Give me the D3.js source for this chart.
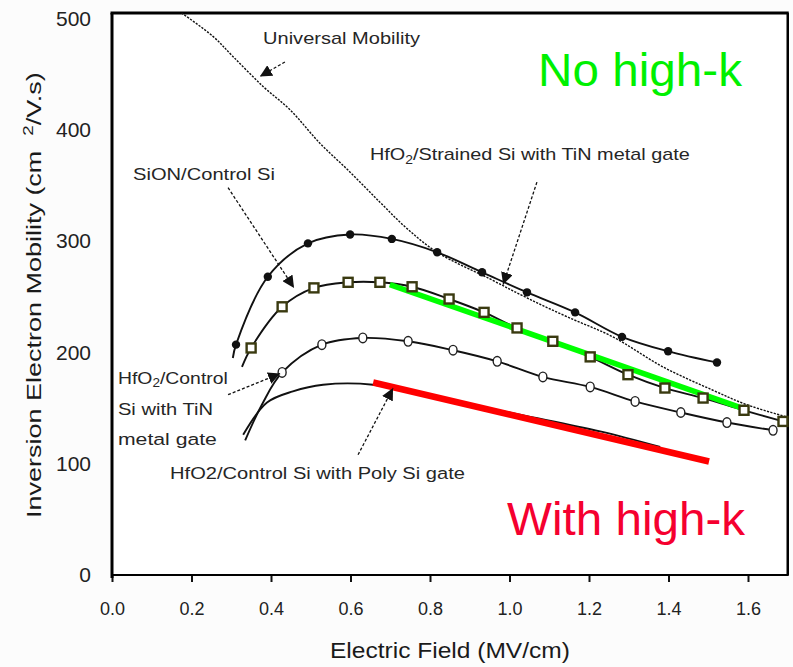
<!DOCTYPE html>
<html>
<head>
<meta charset="utf-8">
<title>Inversion Electron Mobility vs Electric Field</title>
<style>
body { margin: 0; background: #fcfcfc; }
svg text { font-family: "Liberation Sans", Arial, sans-serif; }
</style>
<script src="https://cdn.jsdelivr.net/npm/d3@7"></script>
</head>
<body>
<svg id="chart" width="793" height="667"></svg>
<script>
// ---- data (MV/cm, cm2/V.s) ----
var xTicks = [0, 0.2, 0.4, 0.6, 0.8, 1.0, 1.2, 1.4, 1.6];
var yTicks = [0, 100, 200, 300, 400, 500];

// HfO2 / strained Si with TiN metal gate (filled circles), first point is the line tail
var strainedX = [0.304, 0.312, 0.392, 0.493, 0.599, 0.704, 0.818, 0.931, 1.044, 1.165, 1.283, 1.399, 1.522];
var strainedY = [195, 207, 268, 298, 306, 302, 290, 272, 254, 236, 214, 201, 191];

// SiON / control Si (open squares)
var sionX = [0.327, 0.350, 0.428, 0.508, 0.594, 0.674, 0.755, 0.848, 0.936, 1.019, 1.109, 1.203, 1.298, 1.391, 1.487, 1.590, 1.688];
var sionY = [187, 204, 241, 258, 263, 263, 259, 248, 236, 222, 210, 196, 180, 168, 159, 148, 138];

// HfO2 / control Si with TiN metal gate (open circles), first two points are the line tail
var tinX = [0.335, 0.377, 0.428, 0.528, 0.631, 0.745, 0.858, 0.969, 1.084, 1.203, 1.316, 1.431, 1.547, 1.663];
var tinY = [121, 153, 182, 207, 213, 210, 202, 192, 178, 169, 156, 146, 137, 130];

// HfO2 / control Si with poly Si gate (no markers)
var polyX = [0.330, 0.390, 0.455, 0.531, 0.657, 0.850, 1.026, 1.228, 1.379];
var polyY = [126, 155, 165, 171, 171, 157, 144, 129, 115];

// universal mobility curve
var univX = [0.175, 0.254, 0.304, 0.380, 0.448, 0.523, 0.599, 0.674, 0.740, 0.818, 0.951, 1.044, 1.145, 1.260, 1.386, 1.512, 1.597, 1.698];
var univY = [505, 484, 466, 439, 418, 388, 362, 335, 312, 290, 266, 249, 232, 214, 187, 166, 153, 142];

// trend lines drawn over the plot
var noHighKX = [0.699, 1.585];
var noHighKY = [261, 150];
var highKX = [0.657, 1.502];
var highKY = [173, 102];

// ---- layout ----
var svg = d3.select("#chart");
var x = d3.scaleLinear().domain([0, 1.7]).range([112, 787.75]);
var y = d3.scaleLinear().domain([0, 505]).range([575, 13]);

function pts(xs, ys) { return xs.map(function (v, i) { return [v, ys[i]]; }); }
var line = d3.line()
  .x(function (d) { return x(d[0]); })
  .y(function (d) { return y(d[1]); })
  .curve(d3.curveCatmullRom.alpha(0.5));
var straight = d3.line()
  .x(function (d) { return x(d[0]); })
  .y(function (d) { return y(d[1]); });

svg.append("rect").attr("x", x(0)).attr("y", y(505))
  .attr("width", x(1.7) - x(0)).attr("height", y(0) - y(505))
  .attr("fill", "#fff");

// arrowhead
svg.append("defs").append("marker")
  .attr("id", "arrow").attr("viewBox", "0 0 10 10")
  .attr("refX", 10).attr("refY", 5)
  .attr("markerWidth", 12).attr("markerHeight", 12)
  .attr("markerUnits", "userSpaceOnUse")
  .attr("orient", "auto")
  .append("path").attr("d", "M0,0 L10,5 L0,10 Z").attr("fill", "#111");

// axes
var xAxis = svg.append("g").attr("transform", "translate(0," + y(0) + ")")
  .call(d3.axisBottom(x).tickValues(xTicks).tickFormat(d3.format(".1f"))
    .tickSize(7).tickPadding(20));
xAxis.select(".domain").remove();
xAxis.selectAll("line").attr("stroke", "#111").attr("stroke-width", 2);
xAxis.selectAll("text").attr("font-size", 18).attr("fill", "#222")
  .style("font-family", '"Liberation Sans", Arial, sans-serif');

var yAxis = svg.append("g").attr("transform", "translate(" + x(0) + ",0)")
  .call(d3.axisLeft(y).tickValues(yTicks).tickSize(0).tickPadding(21));
yAxis.select(".domain").remove();
yAxis.selectAll("text").attr("font-size", 21).attr("fill", "#222")
  .style("font-family", '"Liberation Sans", Arial, sans-serif');

// frame
var frame = svg.append("g").attr("stroke", "#000").attr("fill", "none");
frame.append("line").attr("x1", x(0) - 1.5).attr("x2", x(1.7) + 1).attr("y1", y(505)).attr("y2", y(505)).attr("stroke-width", 3);
frame.append("line").attr("x1", x(0)).attr("x2", x(0)).attr("y1", y(505)).attr("y2", y(0) + 3).attr("stroke-width", 3);
frame.append("line").attr("x1", x(1.7)).attr("x2", x(1.7)).attr("y1", y(505)).attr("y2", y(0)).attr("stroke-width", 2.5);
frame.append("line").attr("x1", x(0)).attr("x2", x(1.7) + 1).attr("y1", y(0)).attr("y2", y(0)).attr("stroke-width", 2);

// curves
svg.append("path").datum(pts(univX, univY)).attr("d", line)
  .attr("fill", "none").attr("stroke", "#111").attr("stroke-width", 1.4)
  .attr("stroke-dasharray", "2.2,1.3");

[[polyX, polyY], [tinX, tinY], [sionX, sionY], [strainedX, strainedY]].forEach(function (s) {
  svg.append("path").datum(pts(s[0], s[1])).attr("d", line)
    .attr("fill", "none").attr("stroke", "#111").attr("stroke-width", 1.9);
});

// trend lines
svg.append("path").datum(pts(highKX, highKY)).attr("d", straight)
  .attr("stroke", "#ff0000").attr("stroke-width", 6.5);
svg.append("path").datum(pts(noHighKX, noHighKY)).attr("d", straight)
  .attr("stroke", "#00ff00").attr("stroke-width", 5.5);

// markers
svg.append("g").selectAll("circle").data(pts(strainedX, strainedY).slice(1)).enter()
  .append("circle").attr("cx", function (d) { return x(d[0]); }).attr("cy", function (d) { return y(d[1]); })
  .attr("r", 4.2).attr("fill", "#111");

svg.append("g").selectAll("rect").data(pts(sionX, sionY).slice(1)).enter()
  .append("rect").attr("x", function (d) { return x(d[0]) - 4.5; }).attr("y", function (d) { return y(d[1]) - 4.5; })
  .attr("width", 9).attr("height", 9)
  .attr("fill", "#fff").attr("stroke", "#3a3a10").attr("stroke-width", 2.4);

svg.append("g").selectAll("ellipse").data(pts(tinX, tinY).slice(2)).enter()
  .append("ellipse").attr("cx", function (d) { return x(d[0]); }).attr("cy", function (d) { return y(d[1]); })
  .attr("rx", 4).attr("ry", 4.8)
  .attr("fill", "#fff").attr("stroke", "#222").attr("stroke-width", 1.4);

// annotation arrows [from, to] in data units
var arrows = [
  [[0.435, 461], [0.372, 448]],
  [[0.292, 348], [0.458, 258]],
  [[1.069, 353], [0.984, 261]],
  [[0.292, 162], [0.423, 181]],
  [[0.619, 108], [0.707, 168]]
];
svg.append("g").selectAll("path").data(arrows).enter().append("path")
  .attr("d", straight).attr("fill", "none").attr("stroke", "#111")
  .attr("stroke-width", 1.3).attr("stroke-dasharray", "3,2")
  .attr("marker-end", "url(#arrow)");

// text helpers: fit a text run to a measured width
function addText(parts, px, py, width, size, color, rotate) {
  var t = svg.append("text").attr("font-size", size).attr("fill", color);
  parts.forEach(function (p) {
    var ts = t.append("tspan").text(p[0]);
    if (p[1] === "sub") ts.attr("font-size", size * 0.7).attr("dy", size * 0.22);
    if (p[1] === "sup") ts.attr("font-size", size * 0.7).attr("dy", -size * 0.4);
    if (p[1] === "after-sub") ts.attr("dy", -size * 0.22);
    if (p[1] === "after-sup") ts.attr("dy", size * 0.4);
  });
  var w = t.node().getComputedTextLength();
  var sx = width / w;
  t.attr("transform", "translate(" + px + "," + py + ")" + (rotate ? " rotate(-90)" : "") + " scale(" + sx + ",1)");
  return t;
}

var note = "#262626";
addText([["Universal Mobility"]], x(0.380), y(477.5), 157, 17, note);
addText([["SiON/Control Si"]], x(0.053), y(355), 142, 17, note);
addText([["HfO"], ["2", "sub"], ["/Strained Si with TiN metal gate", "after-sub"]], x(0.649), y(373), 320, 17, note);
addText([["HfO"], ["2", "sub"], ["/Control", "after-sub"]], x(0.015), y(172), 110, 17, note);
addText([["Si with TiN"]], x(0.015), y(144), 95, 17, note);
addText([["metal gate"]], x(0.015), y(117), 99, 17, note);
addText([["HfO2/Control Si with Poly Si gate"]], x(0.146), y(86), 295, 17, note);

addText([["No high-k"]], x(1.072), y(439), 204, 46, "#00f000");
addText([["With high-k"]], x(0.994), y(36), 238, 47, "#f5002f");

// axis titles
addText([["Electric Field (MV/cm)"]], 330, 658, 240, 22, "#1a1a1a");
addText([["Inversion Electron Mobility (cm\u00a0\u00a0"], ["2", "sup"], ["/V.s)", "after-sup"]], 41, 518, 446, 21, "#1a1a1a", true);
</script>
</body>
</html>
